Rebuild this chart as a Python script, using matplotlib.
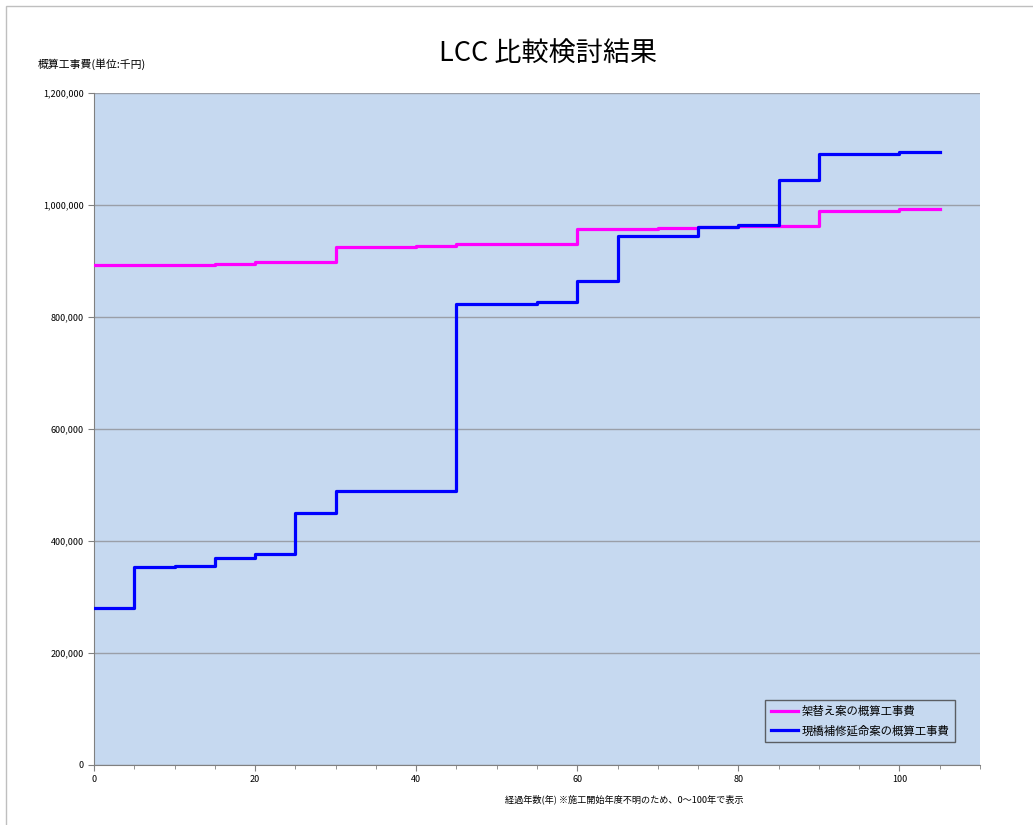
import matplotlib
matplotlib.use('Agg')
import matplotlib.pyplot as plt
from matplotlib.ticker import FuncFormatter, MultipleLocator
from matplotlib.patches import Rectangle

plt.rcParams['font.family'] = ['Noto Sans CJK JP', 'DejaVu Sans']

# 架替え案 (years where cost changes, cumulative cost in 千円)
years_a = [0, 15, 20, 30, 40, 45, 60, 70, 75, 80, 90, 100]
cost_a = [893000, 895500, 897500, 924500, 927000, 929500, 958000, 959500,
          961000, 963000, 990000, 993000]

# 現橋補修延命案
years_b = [0, 5, 10, 15, 20, 25, 30, 45, 55, 60, 65, 75, 80, 85, 90, 100]
cost_b = [279500, 353000, 356000, 369000, 376000, 450000, 489600, 823500,
          826000, 864500, 945300, 961000, 964000, 1044800, 1091200, 1094000]

end_year = 105
labels = ['架替え案の概算工事費', '現橋補修延命案の概算工事費']

fig = plt.figure(figsize=(10.33, 8.25), dpi=100)
fig.patches.append(Rectangle((6 / 1033, -0.1), 1.2, 1 - 6 / 825 + 0.1,
                             transform=fig.transFigure, fill=False,
                             edgecolor='#BFBFBF', linewidth=1))
ax = fig.add_axes([94 / 1033, 1 - 765 / 825, 886 / 1033, 672 / 825])
ax.set_facecolor('#C6D9F0')

ax.step(years_a + [end_year], cost_a + [cost_a[-1]], where='post',
        color='#FF00FF', linewidth=2.3, label=labels[0], zorder=3)
ax.step(years_b + [end_year], cost_b + [cost_b[-1]], where='post',
        color='#0000FF', linewidth=2.3, label=labels[1], zorder=4)

ax.set_xlim(0, 110)
ax.set_ylim(0, 1200000)
ax.xaxis.set_major_locator(MultipleLocator(20))
ax.xaxis.set_minor_locator(MultipleLocator(5))
ax.yaxis.set_major_locator(MultipleLocator(200000))
ax.yaxis.set_major_formatter(FuncFormatter(lambda v, p: f'{int(v):,}'))
ax.grid(axis='y', color='#9A9FA8', linewidth=1)
ax.set_axisbelow(True)
for s in ['top', 'right']:
    ax.spines[s].set_visible(False)
for s in ['left', 'bottom']:
    ax.spines[s].set_color('#808080')
ax.tick_params(axis='both', which='both', direction='out', colors='#808080',
               labelcolor='black', labelsize=6.5)
ax.tick_params(axis='both', which='major', length=4)
ax.tick_params(axis='x', which='minor', length=3)

fig.text(548 / 1033, 1 - 54 / 825, 'LCC 比較検討結果', fontsize=19.5,
         ha='center', va='center')
fig.text(38 / 1033, 1 - 64 / 825, '概算工事費(単位:千円)', fontsize=7.8,
         ha='left', va='center')
fig.text(624 / 1033, 1 - 799 / 825,
         '経過年数(年) ※施工開始年度不明のため、0〜100年で表示',
         fontsize=6.6, ha='center', va='center')

leg = ax.legend(loc='lower right', bbox_to_anchor=(0.972, 0.034),
                borderaxespad=0, fontsize=8.2, frameon=True, fancybox=False,
                handlelength=2.4, handletextpad=0.3, labelspacing=0.7,
                borderpad=0.5)
leg.get_frame().set_facecolor('#C6D9F0')
leg.get_frame().set_edgecolor('#404040')
leg.get_frame().set_linewidth(1)

plt.savefig('out.png', dpi=100)
